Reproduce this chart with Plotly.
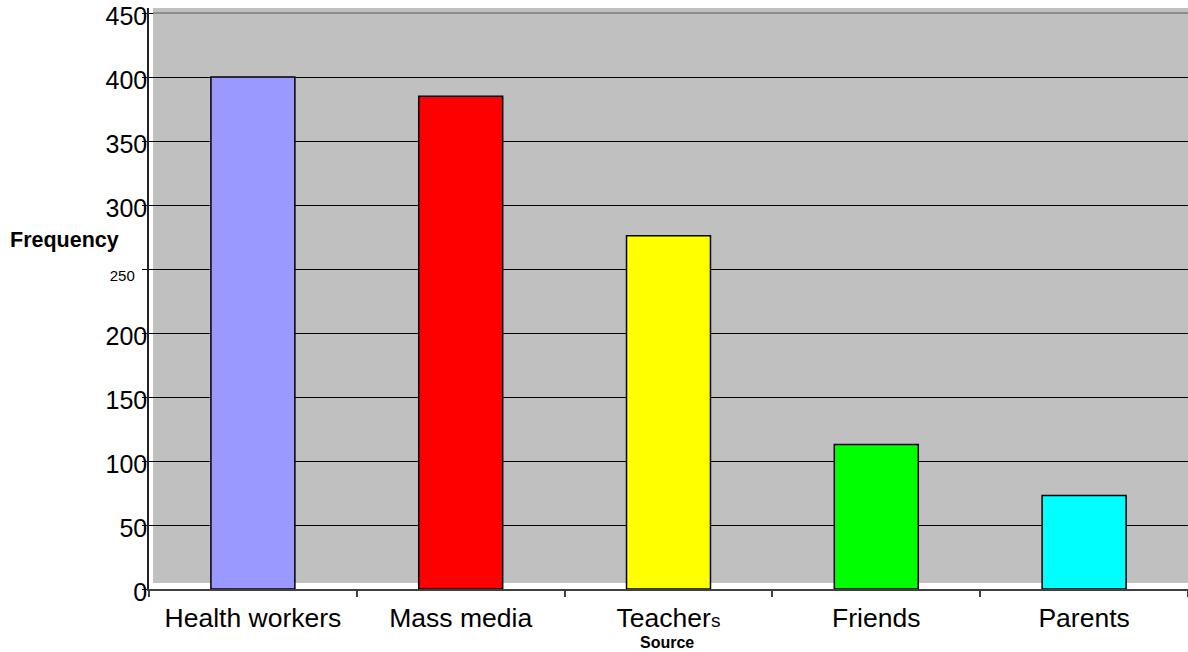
import plotly.graph_objects as go

# Source of information and how often each was cited
sources = ["Health workers", "Mass media", "Teachers", "Friends", "Parents"]
frequency = [400, 385, 276, 113, 73]
bar_colors = ["#9999FF", "#FF0000", "#FFFF00", "#00FF00", "#00FFFF"]

source_ticktext = ["Health workers", "Mass media",
                   'Teacher<span style="font-size:19px">s</span>',
                   "Friends", "Parents"]

y_tickvals = [0, 50, 100, 150, 200, 250, 300, 350, 400, 450]
y_ticktext = ["0", "50", "100", "150", "200",
              '<span style="font-size:15px">250&nbsp;&nbsp;&nbsp;</span>',
              "300", "350", "400", "450"]

W, H = 1188, 652
ML, MR, MT, MB = 149, 0, 8, 63
plot_w = W - ML - MR
plot_h = H - MT - MB
y_top = 454

FONT = "Liberation Sans, Arial, sans-serif"

fig = go.Figure()
fig.add_trace(go.Bar(
    x=sources,
    y=frequency,
    width=0.404,
    marker=dict(color=bar_colors, line=dict(color="#000000", width=1.5)),
    showlegend=False,
    hoverinfo="x+y",
))

# grey panel behind the bars, inset slightly from the axes
inset_x = -0.5 + 4 / (plot_w / 5)
inset_y = 6 / (plot_h / y_top)
fig.add_shape(type="rect", xref="x", yref="y",
              x0=inset_x, x1=4.5, y0=inset_y, y1=y_top,
              fillcolor="#C0C0C0", line=dict(width=0), layer="below")
# top rule drawn softer than the other gridlines
fig.add_shape(type="line", xref="x", yref="y",
              x0=inset_x, x1=4.5, y0=450, y1=450,
              line=dict(color="#8c8c8c", width=2), layer="between")

fig.update_layout(
    width=W, height=H,
    margin=dict(l=ML, r=MR, t=MT, b=MB, pad=0, autoexpand=False),
    paper_bgcolor="#FFFFFF",
    plot_bgcolor="#FFFFFF",
    font=dict(family=FONT, color="#000000"),
    bargap=0.6,
)

fig.update_xaxes(
    type="category",
    range=[-0.5, 4.5],
    tickvals=sources,
    ticktext=source_ticktext,
    tickfont=dict(size=26.5, family=FONT, color="#000000"),
    tickson="boundaries",
    ticks="outside", ticklen=6, tickwidth=1.5, tickcolor="#404040",
    ticklabelstandoff=4,
    showline=True, linecolor="#404040", linewidth=2,
    showgrid=False, zeroline=False,
    automargin=False,
)

fig.update_yaxes(
    range=[0, y_top],
    tickvals=y_tickvals,
    ticktext=y_ticktext,
    tickfont=dict(size=25, family=FONT, color="#000000"),
    ticks="outside", ticklen=5, tickwidth=1, tickcolor="#000000",
    ticklabelshift=3, ticklabelstandoff=-10,
    ticklabeloverflow="allow",
    showline=True, linecolor="#222222", linewidth=1.5,
    showgrid=True, gridcolor="#000000", gridwidth=1,
    zeroline=False,
    automargin=False,
)

fig.add_annotation(
    text="<b>Frequency</b>", xref="paper", yref="paper",
    x=(8 - ML) / plot_w, y=(589 - 240) / plot_h,
    xanchor="left", yanchor="middle", showarrow=False,
    font=dict(size=21.5, family=FONT, color="#000000"),
)
fig.add_annotation(
    text="<b>Source</b>", xref="paper", yref="paper",
    x=(667 - ML) / plot_w, y=(589 - 642) / plot_h,
    xanchor="center", yanchor="middle", showarrow=False,
    font=dict(size=16, family=FONT, color="#000000"),
)

fig.write_html("out.html")
